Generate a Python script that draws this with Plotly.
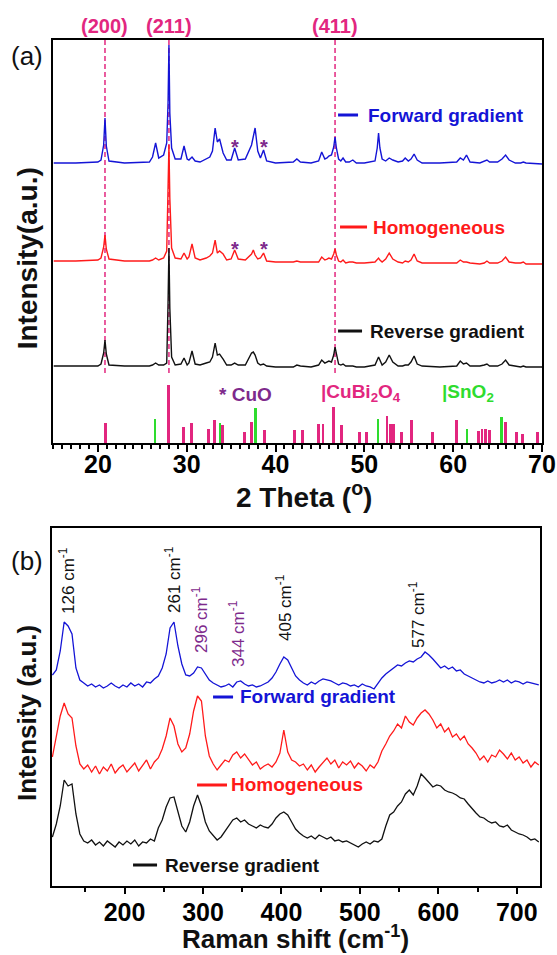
import plotly.graph_objects as go

# ---------------- Panel (a): XRD ----------------
xrd_2theta = [
    15.0, 17.5, 20.0,
    20.35, 20.65, 20.8, 20.95, 21.25,
    23.0, 25.8,
    26.15, 26.5, 26.85,
    27.4, 27.75, 27.9, 28.0, 28.1, 28.3, 28.7,
    29.35, 29.7, 30.05,
    30.25, 30.6, 30.95,
    31.5, 32.2,
    32.6, 32.9, 33.2, 33.45, 33.7, 34.1, 34.5,
    35.0, 35.4, 35.8,
    36.6, 37.3, 37.5, 37.7, 38.0, 38.3, 38.65, 39.0,
    40.0, 42.0, 42.4, 42.8, 44.0,
    44.85, 45.2, 45.55, 45.8, 46.0, 46.3, 46.55, 46.7, 46.85, 47.1, 47.35, 47.6, 47.9, 48.3, 48.7, 49.1, 50.0,
    51.2, 51.45, 51.6, 51.75, 52.0, 52.4, 52.8, 53.2, 53.8, 54.3, 54.6, 54.95, 55.25, 55.6, 55.95, 56.5,
    58.5, 60.4, 60.8, 61.15, 61.5, 61.9, 63.0, 63.5, 63.8, 64.1, 65.0, 65.5, 65.9, 66.3, 67.0, 67.6, 67.9, 68.2, 70.0,
]
xrd_forward = [
    280, 280, 281,
    283, 298, 325, 297, 282,
    280, 281,
    286, 300, 285,
    288, 300, 340, 398, 330, 295, 284,
    284, 297, 284,
    283, 286, 282,
    281, 284,
    286, 292, 315, 301, 304, 290, 283,
    283, 295, 283,
    284, 298, 306, 315, 292, 285, 293, 282,
    280, 281, 284, 281, 280,
    282, 291, 284, 285, 287, 288, 296, 306, 295, 284, 282, 285, 281, 281, 283, 280, 280,
    282, 295, 310, 295, 284, 282, 285, 283, 281, 282, 285, 282, 284, 289, 283, 280,
    280, 281, 285, 283, 288, 281, 280, 282, 283, 281, 281, 284, 288, 283, 280, 280, 281, 280, 279,
]
xrd_homogeneous = [
    182, 182, 183,
    185, 196, 208, 194, 184,
    182, 182,
    183, 185, 183,
    185, 192, 250, 298, 245, 195, 185,
    184, 190, 184,
    186, 199, 185,
    183, 185,
    187, 190, 203, 190, 192, 189, 183,
    184, 193, 184,
    183, 189, 193, 188, 184, 185, 190, 182,
    181, 181, 182, 181, 181,
    181, 186, 183, 184, 185, 184, 189, 194, 188, 182, 181, 183, 180, 181, 181, 180, 180,
    181, 183, 185, 183, 181, 184, 190, 184, 181, 180, 182, 181, 183, 189, 182, 180,
    180, 180, 183, 181, 181, 180, 179, 180, 182, 180, 180, 182, 186, 181, 180, 180, 181, 179, 179,
]
xrd_reverse = [
    77, 77, 77,
    79, 90, 103, 89, 78,
    77, 77,
    78, 80, 78,
    78, 80, 140, 195, 135, 86, 78,
    79, 85, 78,
    80, 92, 79,
    78, 80,
    81, 86, 100, 88, 89, 84, 78,
    78, 80, 78,
    78, 90, 91, 88, 80, 78, 79, 77,
    76, 76, 78, 77, 76,
    78, 83, 80, 81, 82, 81, 88, 96, 88, 79, 78, 79, 77, 77, 77, 76, 76,
    78, 83, 86, 83, 78, 81, 88, 81, 77, 77, 78, 78, 81, 87, 79, 77,
    76, 77, 82, 79, 80, 77, 77, 78, 79, 77, 77, 79, 83, 78, 77, 76, 77, 76, 76,
]

cubi2o4_2theta = [20.9, 28.0, 29.7, 30.6, 32.5, 33.2, 34.1, 36.6, 37.3, 38.8,
                  42.2, 43.1, 44.9, 45.4, 46.6, 47.5, 49.5, 50.3, 52.6, 53.0,
                  53.3, 54.2, 55.4, 57.7, 60.4, 62.9, 63.3, 63.7, 64.1, 65.9,
                  67.2, 67.9, 69.5]
cubi2o4_height = [20, 58, 16, 20, 14, 23, 18, 11, 21, 13,
                  13, 13, 19, 19, 36, 18, 11, 11, 27, 19,
                  19, 11, 23, 11, 23, 12, 14, 14, 13, 21,
                  11, 9, 11]
sno2_2theta = [26.5, 33.8, 37.8, 51.6, 61.6, 65.5]
sno2_height = [24, 20, 35, 24, 14, 26]

hkl_labels = ["(200)", "(211)", "(411)"]
hkl_2theta = [20.8, 28.0, 46.7]
cuo_2theta = [35.4, 38.65]

# ---------------- Panel (b): Raman ----------------
raman_shift = list(range(108, 729, 5))  # 108 ... 728
raman_forward = [
    211, 216, 235, 264, 260, 252, 218, 206, 203, 200,
    202, 199, 201, 198, 200, 203, 200, 198, 201, 199,
    203, 200, 202, 199, 204, 203, 207, 210, 218, 232,
    258, 264, 240, 222, 211, 210, 213, 219, 218, 212,
    206, 203, 201, 199, 200, 202, 199, 204, 205, 202,
    200, 201, 199, 200, 202, 204, 208, 214, 222, 229,
    226, 218, 210, 206, 203, 201, 204, 202, 205, 207,
    206, 205, 203, 201, 203, 202, 200, 201, 199, 202,
    200, 199, 197, 203, 208, 212, 215, 218, 221, 220,
    223, 225, 224, 227, 229, 234, 231, 227, 222, 218,
    220, 217, 219, 215, 216, 212, 210, 208, 206, 204,
    203, 205, 203, 204, 206, 204, 206, 203, 205, 204,
    202, 204, 203, 202, 201,
]
raman_homogeneous = [
    129, 150, 170, 183, 172, 168, 140, 122, 117, 121,
    114, 120, 112, 119, 115, 122, 113, 118, 121, 114,
    119, 123, 115, 121, 126, 117, 124, 128, 137, 150,
    168, 160, 142, 134, 138, 152, 175, 190, 185, 150,
    130, 122, 116, 121, 126, 124, 131, 134, 128, 132,
    126, 121, 124, 117, 120, 122, 119, 124, 133, 156,
    134, 126, 124, 120, 122, 116, 121, 114, 119, 124,
    128, 122, 126, 118, 124, 121, 125, 118, 123, 120,
    115, 121, 118, 124, 135, 142, 150, 155, 162, 158,
    170, 164, 161, 168, 173, 176, 172, 166, 158, 162,
    154, 158, 149, 152, 146, 150, 142, 138, 133, 126,
    130, 124, 131, 129, 136, 132, 127, 133, 126, 129,
    123, 126, 119, 124, 121,
]
raman_reverse = [
    49, 62, 80, 106, 100, 102, 72, 52, 45, 43,
    46, 41, 44, 40, 45, 42, 39, 44, 41, 45,
    42, 46, 40, 44, 43, 47, 45, 58, 66, 79,
    88, 89, 75, 60, 54, 64, 80, 91, 80, 64,
    55, 50, 46, 49, 55, 61, 66, 68, 64, 66,
    62, 60, 58, 61, 59, 58, 62, 68, 72, 74,
    71, 64, 57, 53, 50, 48, 50, 47, 51, 49,
    47, 49, 45, 46, 44, 45, 43, 41, 39, 42,
    44, 42, 45, 44, 47, 60, 71, 74, 80, 84,
    92, 96, 91, 100, 112, 108, 103, 99, 101, 100,
    96, 94, 93, 91, 88, 87, 82, 77, 73, 69,
    68, 65, 63, 64, 60, 59, 61, 56, 54, 52,
    51, 49, 46, 47, 44,
]
raman_peak_labels = ["126", "261", "296", "344", "405", "577"]

# ---------------- styles ----------------
BLUE = "#1414d6"
RED = "#ff1a1a"
BLACK = "#111111"
MAGENTA = "#e2267f"
PURPLE = "#7e2a8c"
GREEN = "#2edc2e"
FONT = "Liberation Sans"

fig = go.Figure()

# XRD curves
for ys, col in [(xrd_forward, BLUE), (xrd_homogeneous, RED), (xrd_reverse, BLACK)]:
    fig.add_trace(go.Scatter(x=xrd_2theta, y=ys, mode="lines",
                             line=dict(color=col, width=1.4), xaxis="x", yaxis="y",
                             showlegend=False, hoverinfo="skip"))
# reference bars
fig.add_trace(go.Bar(x=cubi2o4_2theta, y=cubi2o4_height, width=0.32,
                     marker=dict(color=MAGENTA, line=dict(width=0)),
                     xaxis="x", yaxis="y", showlegend=False))
fig.add_trace(go.Bar(x=sno2_2theta, y=sno2_height, width=0.28,
                     marker=dict(color=GREEN, line=dict(width=0)),
                     xaxis="x", yaxis="y", showlegend=False))

# Raman curves
for ys, col in [(raman_forward, BLUE), (raman_homogeneous, RED), (raman_reverse, BLACK)]:
    fig.add_trace(go.Scatter(x=raman_shift, y=ys, mode="lines",
                             line=dict(color=col, width=1.3), xaxis="x2", yaxis="y2",
                             showlegend=False, hoverinfo="skip"))

shapes = []
annotations = []

# dashed hkl lines + labels
for lab, xv in zip(hkl_labels, hkl_2theta):
    shapes.append(dict(type="line", xref="x", yref="y", x0=xv, x1=xv, y0=70, y1=403,
                       line=dict(color=MAGENTA, width=1.5, dash="5px,3px"), layer="below"))
    annotations.append(dict(text="<b>%s</b>" % lab, x=xv, y=1.0165, xref="x", yref="paper",
                            showarrow=False, font=dict(family=FONT, size=20, color=MAGENTA),
                            xanchor="center", yanchor="middle"))

# CuO stars
for xv in cuo_2theta:
    for yv in (296, 194):
        annotations.append(dict(text="<b>*</b>", x=xv, y=yv, xref="x", yref="y", showarrow=False,
                                font=dict(family=FONT, size=20, color=PURPLE),
                                xanchor="center", yanchor="middle"))

# sample labels in panel a
for (x0, x1, yv, xt, txt, col) in [
    (47.04, 49.29, 328, 50.19, "Forward gradient", BLUE),
    (47.26, 50.30, 216, 50.75, "Homogeneous", RED),
    (47.04, 49.74, 112, 50.41, "Reverse gradient", BLACK),
]:
    shapes.append(dict(type="line", xref="x", yref="y", x0=x0, x1=x1, y0=yv, y1=yv,
                       line=dict(color=col, width=3)))
    annotations.append(dict(text="<b>%s</b>" % txt, x=xt, y=yv, xref="x", yref="y", showarrow=False,
                            font=dict(family=FONT, size=19, color=col), xanchor="left", yanchor="middle"))

# reference legend texts
annotations.append(dict(text="<b>* CuO</b>", x=33.41, y=49, xref="x", yref="y", showarrow=False,
                        font=dict(family=FONT, size=19, color=PURPLE), xanchor="left", yanchor="middle"))
annotations.append(dict(text="<b>|CuBi<sub>2</sub>O<sub>4</sub></b>", x=44.9, y=50, xref="x", yref="y",
                        showarrow=False, font=dict(family=FONT, size=19, color=MAGENTA),
                        xanchor="left", yanchor="middle"))
annotations.append(dict(text="<b>|SnO<sub>2</sub></b>", x=58.5, y=50, xref="x", yref="y",
                        showarrow=False, font=dict(family=FONT, size=19, color=GREEN),
                        xanchor="left", yanchor="middle"))

# Raman peak labels
raman_label_pos = [(126.6, 306, BLACK), (261.8, 306, BLACK), (296.2, 266, PURPLE),
                   (343.3, 253, PURPLE), (403.3, 278, BLACK), (572.8, 271, BLACK)]
for lab, (xv, yv, col) in zip(raman_peak_labels, raman_label_pos):
    annotations.append(dict(text="%s cm<sup>-1</sup>" % lab, x=xv, y=yv, xref="x2", yref="y2",
                            showarrow=False, textangle=-90,
                            font=dict(family=FONT, size=17, color=col),
                            xanchor="center", yanchor="middle"))

# sample labels in panel b
for (x0, x1, yv, xt, txt, col) in [
    (312.8, 338.3, 189, 344.6, "Forward gradient", BLUE),
    (292.4, 330.6, 101, 333.1, "Homogeneous", RED),
    (210.8, 241.4, 21, 249.0, "Reverse gradient", BLACK),
]:
    shapes.append(dict(type="line", xref="x2", yref="y2", x0=x0, x1=x1, y0=yv, y1=yv,
                       line=dict(color=col, width=3)))
    annotations.append(dict(text="<b>%s</b>" % txt, x=xt, y=yv, xref="x2", yref="y2", showarrow=False,
                            font=dict(family=FONT, size=19, color=col), xanchor="left", yanchor="middle"))

# panel letters and axis titles
annotations += [
    dict(text="(a)", x=-0.051, y=0.981, xref="paper", yref="paper", showarrow=False,
         font=dict(family=FONT, size=26, color=BLACK), xanchor="center", yanchor="middle"),
    dict(text="(b)", x=-0.051, y=0.384, xref="paper", yref="paper", showarrow=False,
         font=dict(family=FONT, size=26, color=BLACK), xanchor="center", yanchor="middle"),
    dict(text="<b>Intensity(a.u.)</b>", x=-0.051, y=0.742, xref="paper", yref="paper",
         showarrow=False, textangle=-90, font=dict(family=FONT, size=28, color=BLACK),
         xanchor="center", yanchor="middle"),
    dict(text="<b>Intensity (a.u.)</b>", x=-0.051, y=0.2045, xref="paper", yref="paper",
         showarrow=False, textangle=-90, font=dict(family=FONT, size=26, color=BLACK),
         xanchor="center", yanchor="middle"),
    dict(text="<b>2 Theta (<sup>o</sup>)</b>", x=0.514, y=0.462, xref="paper", yref="paper",
         showarrow=False, font=dict(family=FONT, size=28, color=BLACK),
         xanchor="center", yanchor="middle"),
    dict(text="<b>Raman shift (cm<sup>-1</sup>)</b>", x=0.497, y=-0.061, xref="paper", yref="paper",
         showarrow=False, font=dict(family=FONT, size=26, color=BLACK),
         xanchor="center", yanchor="middle"),
]

axis_common = dict(showline=True, linecolor="black", linewidth=2, mirror=True,
                   showgrid=False, zeroline=False, automargin=False)

fig.update_layout(
    width=557, height=955,
    margin=dict(l=52, r=15, t=40, b=69, autoexpand=False),
    paper_bgcolor="white", plot_bgcolor="white",
    barmode="overlay", bargap=0,
    showlegend=False,
    xaxis=dict(domain=[0.003, 1.0], range=[15, 70], anchor="y",
               tickmode="array", tickvals=[20, 30, 40, 50, 60, 70],
               ticks="outside", ticklen=7, tickwidth=2, tickcolor="black",
               ticklabelstandoff=-9,
               minor=dict(dtick=1, tick0=0, ticks="outside", ticklen=4, tickwidth=1.5, tickcolor="black"),
               tickfont=dict(family=FONT, size=25, color="black", weight="bold"),
               **axis_common),
    yaxis=dict(domain=[0.5236, 1.0], range=[0, 403], anchor="x",
               showticklabels=False, ticks="", **axis_common),
    xaxis2=dict(domain=[0.0, 0.995], range=[107.5, 729], anchor="y2",
                tickmode="linear", tick0=0, dtick=100,
                ticks="outside", ticklen=6, tickwidth=2, tickcolor="black",
                ticklabelstandoff=-3,
                minor=dict(dtick=50, tick0=0, ticks="outside", ticklen=4, tickwidth=1.5, tickcolor="black"),
                tickfont=dict(family=FONT, size=25, color="black", weight="bold"),
                **axis_common),
    yaxis2=dict(domain=[0.0, 0.4232], range=[0, 358], anchor="x2",
                showticklabels=False, ticks="", **axis_common),
    shapes=shapes,
    annotations=annotations,
)

fig.write_html("out.html", config={"displayModeBar": False},
               post_script="document.body.style.margin='0';document.body.style.overflow='hidden';")
